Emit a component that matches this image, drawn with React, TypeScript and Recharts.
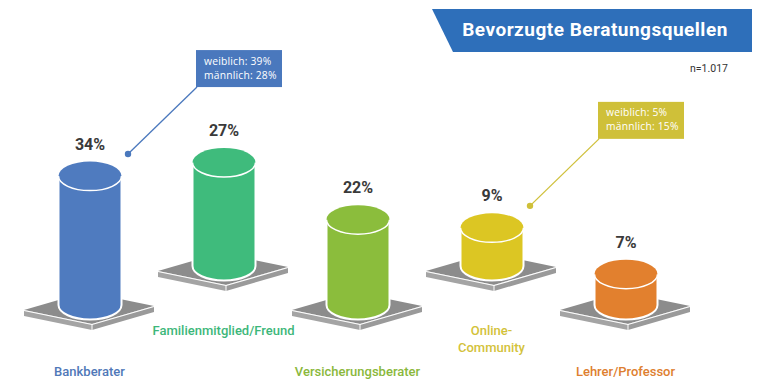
import { BarChart, Bar, XAxis, YAxis } from 'recharts';

// Beratungsquellen, Anteile in %
const kategorien = ['Bankberater', 'Familienmitglied/Freund', 'Versicherungsberater', 'Online-Community', 'Lehrer/Professor'];
const anteile = [34, 27, 22, 9, 7];
const farben = ['#4f7bbf', '#3fbb7c', '#8bbd3c', '#dcc623', '#e2802e'];
const textFarben = ['#5078b8', '#3db77a', '#8ab83c', '#d3c23a', '#de7f30'];

// Geschlechter-Aufteilung (Callouts)
const calloutKategorien = ['Bankberater', 'Online-Community'];
const weiblich = [39, 5];
const maennlich = [28, 15];
const calloutFarben = ['#4a78bd', '#cfc039'];

const FUSS = -1.5; // Zylinder steht etwas unter der Nulllinie
const VERSATZ = 39; // jede zweite Säule steht weiter hinten

const daten = kategorien.map((kategorie, i) => ({ kategorie, wert: anteile[i] }));

function Zylinder(props: any) {
  const { x, y, width, height, index, payload } = props;
  const dy = index % 2 === 1 ? VERSATZ : 0;
  const cx = x + width / 2;
  const rx = width / 2;
  const ry = 14.5;
  const oben = y - dy;
  const unten = y + height - dy;
  const l = x;
  const r = x + width;
  const farbe = farben[index];

  // Sockel
  const pL = [cx - 66, unten + 5];
  const pF = [cx + 2, unten + 19];
  const pR = [cx + 64, unten + 1];
  const pB = [cx - 4, unten - 13];
  const t = 6;
  const pt = (p: number[], o = 0) => `${p[0]},${p[1] + o}`;

  const ci = calloutKategorien.indexOf(payload.kategorie);
  let callout = null;
  if (ci >= 0) {
    const dotX = cx + 38;
    const dotY = oben - 22;
    const bx = dotX + 68;
    const by = dotY - 67;
    const c = calloutFarben[ci];
    callout = (
      <g>
        <line x1={dotX} y1={dotY} x2={bx + 1} y2={by} stroke={c} strokeWidth={1.3} />
        <circle cx={dotX} cy={dotY} r={3.2} fill={c} />
        <rect x={bx} y={by - 37} width={86} height={37} fill={c} />
        <text x={bx + 8} y={by - 22.5} fill="#fff" fontSize={10.3} letterSpacing={0.2} fontFamily="Open Sans">
          weiblich: {weiblich[ci]}%
        </text>
        <text x={bx + 8} y={by - 8.5} fill="#fff" fontSize={10.3} letterSpacing={0.2} fontFamily="Open Sans">
          männlich: {maennlich[ci]}%
        </text>
      </g>
    );
  }

  return (
    <g>
      <polygon points={`${pt(pL)} ${pt(pF)} ${pt(pF, t)} ${pt(pL, t)}`} fill="#a4a4a4" />
      <polygon points={`${pt(pF)} ${pt(pR)} ${pt(pR, t)} ${pt(pF, t)}`} fill="#9a9a9a" />
      <polygon points={`${pt(pL)} ${pt(pB)} ${pt(pR)} ${pt(pF)}`} fill="#8c8c8c" />
      <polyline points={`${pt(pL, 0.5)} ${pt(pF, 0.5)} ${pt(pR, 0.5)}`} fill="none" stroke="#fff" strokeWidth={1.2} />
      <line x1={pF[0]} y1={pF[1]} x2={pF[0]} y2={pF[1] + t} stroke="#fff" strokeWidth={1} />
      <path
        d={`M${l},${oben} L${l},${unten} A${rx},${ry} 0 0 0 ${r},${unten} L${r},${oben} Z`}
        fill={farbe}
        stroke="#fff"
        strokeWidth={2}
      />
      <ellipse cx={cx} cy={oben} rx={rx} ry={ry} fill={farbe} />
      <path d={`M${l},${oben} A${rx},${ry} 0 0 0 ${r},${oben}`} fill="none" stroke="#fff" strokeWidth={1.5} />
      <text x={cx} y={oben - 26.5} textAnchor="middle" fill="#3a3a3a" fontSize={16} fontWeight={700} fontFamily="Roboto">
        {payload.wert}%
      </text>
      {callout}
    </g>
  );
}

function KategorieTick(props: any) {
  const { x, y, payload } = props;
  const i = kategorien.indexOf(payload.value);
  const versetzt = i % 2 === 1;
  const name: string = payload.value;
  const zeilen = name.includes('-') ? name.replace('-', '-\n').split('\n') : [name];
  const y0 = versetzt ? y + 30 : y + 71;
  return (
    <text x={x} y={y0} textAnchor="middle" fill={textFarben[i]} fontSize={13} fontWeight={500} fontFamily="Roboto">
      {zeilen.map((z, k) => (
        <tspan key={k} x={x} dy={k === 0 ? 0 : 17}>
          {z}
        </tspan>
      ))}
    </text>
  );
}

export default function App() {
  return (
    <div style={{ position: 'absolute', left: 0, top: 0, width: 757, height: 392, background: '#fff' }}>
      <BarChart
        width={757}
        height={392}
        data={daten}
        margin={{ top: 9, right: 64.5, left: 22.5, bottom: 27 }}
      >
        <XAxis
          dataKey="kategorie"
          axisLine={false}
          tickLine={false}
          tickSize={0}
          tickMargin={0}
          height={60}
          interval={0}
          tick={<KategorieTick />}
        />
        <YAxis hide domain={[FUSS, 80]} />
        <Bar
          dataKey={(d: any) => [FUSS, d.wert]}
          barSize={63}
          shape={<Zylinder />}
          isAnimationActive={false}
        />
      </BarChart>
      <svg width={757} height={392} style={{ position: 'absolute', left: 0, top: 0, pointerEvents: 'none' }}>
        <polygon points="432,9 752,9 752,52 453,52" fill="#2e6fba" />
        <text x={595} y={36} textAnchor="middle" fill="#fff" fontSize={19} fontWeight={700} letterSpacing={0.5} fontFamily="Roboto">
          Bevorzugte Beratungsquellen
        </text>
        <text x={728} y={72} textAnchor="end" fill="#333" fontSize={10.5} fontFamily="Roboto">
          n=1.017
        </text>
      </svg>
    </div>
  );
}
